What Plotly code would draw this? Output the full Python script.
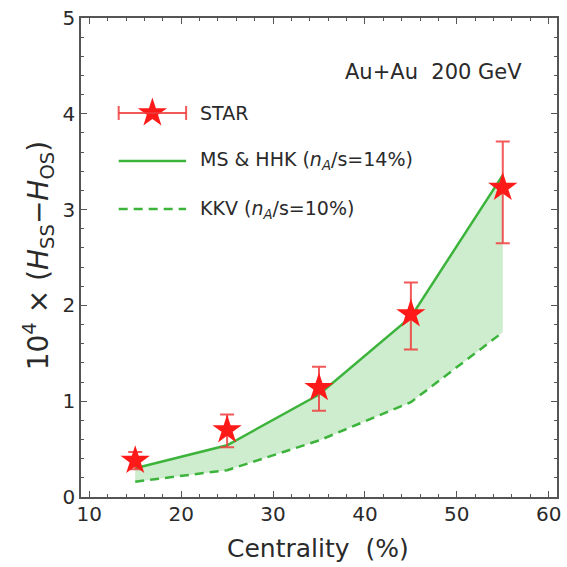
import plotly.graph_objects as go

# ---- data ----
centrality = [15, 25, 35, 45, 55]
star_y = [0.38, 0.70, 1.14, 1.91, 3.23]
star_err_up = [0.09, 0.16, 0.22, 0.33, 0.48]
star_err_dn = [0.09, 0.18, 0.24, 0.37, 0.58]
ms_hhk = [0.30, 0.54, 1.07, 1.88, 3.36]
kkv = [0.16, 0.28, 0.59, 0.99, 1.72]

x_ticks = [10, 20, 30, 40, 50, 60]
y_ticks = [0, 1, 2, 3, 4, 5]

XR = [9.1, 60.9]
YR = [0, 5]

RED = "#ff1a1a"
ERR = "rgba(240,60,60,0.85)"
GREEN = "#3cb43c"
FILL = "rgba(60,180,60,0.25)"
FONT = "DejaVu Sans, Verdana, sans-serif"
TXT = "#2a2a2a"

# plot area in pixels
L, R, T, B = 81, 561, 18, 497
W = H = 567


def px2x(px):
    return XR[0] + (px - L) / (R - L) * (XR[1] - XR[0])


def py2y(py):
    return YR[0] + (B - py) / (B - T) * (YR[1] - YR[0])


def pxp(px):
    return (px - L) / (R - L)


def pyp(py):
    return (B - py) / (B - T)


fig = go.Figure()

# KKV dashed (lower bound of band)
fig.add_trace(go.Scatter(x=centrality, y=kkv, mode="lines",
                         line=dict(color=GREEN, width=2.5, dash="9px,6px"),
                         showlegend=False))
# MS & HHK solid, filled to KKV
fig.add_trace(go.Scatter(x=centrality, y=ms_hhk, mode="lines",
                         line=dict(color=GREEN, width=2.5),
                         fill="tonexty", fillcolor=FILL,
                         showlegend=False))
# STAR data
fig.add_trace(go.Scatter(x=centrality, y=star_y, mode="markers",
                         marker=dict(symbol="star", size=22, color=RED,
                                     line=dict(width=0)),
                         error_y=dict(type="data", symmetric=False,
                                      array=star_err_up, arrayminus=star_err_dn,
                                      color=ERR, thickness=2, width=7),
                         showlegend=False))

# ---- manual legend ----
shapes = []
rows = [113, 161, 209]
x0, x1 = 119, 187
shapes.append(dict(type="line", xref="paper", yref="paper",
                   x0=pxp(x0), x1=pxp(x1), y0=pyp(rows[0]), y1=pyp(rows[0]),
                   line=dict(color=ERR, width=2)))
for cx in (x0, x1):
    shapes.append(dict(type="line", xref="paper", yref="paper",
                       x0=pxp(cx), x1=pxp(cx), y0=pyp(rows[0] - 7), y1=pyp(rows[0] + 7),
                       line=dict(color=ERR, width=2)))
shapes.append(dict(type="line", xref="paper", yref="paper",
                   x0=pxp(x0), x1=pxp(x1), y0=pyp(rows[1]), y1=pyp(rows[1]),
                   line=dict(color=GREEN, width=2.5)))
shapes.append(dict(type="line", xref="paper", yref="paper",
                   x0=pxp(x0), x1=pxp(x1), y0=pyp(rows[2]), y1=pyp(rows[2]),
                   line=dict(color=GREEN, width=2.5, dash="9px,6px")))

fig.add_trace(go.Scatter(x=[px2x(153)], y=[py2y(rows[0])], mode="markers",
                         marker=dict(symbol="star", size=22, color=RED, line=dict(width=0)),
                         showlegend=False, cliponaxis=False, hoverinfo="skip"))

labels = [
    "STAR",
    "MS &amp; HHK (<i>n</i><sub><i>A</i></sub>/s=14%)",
    "KKV (<i>n</i><sub><i>A</i></sub>/s=10%)",
]
annotations = []
for lab, ry in zip(labels, rows):
    annotations.append(dict(text=lab, xref="paper", yref="paper",
                            x=pxp(199), y=pyp(ry), xanchor="left", yanchor="middle",
                            showarrow=False, font=dict(family=FONT, size=19, color=TXT)))

annotations.append(dict(text="Au+Au&nbsp;&nbsp;200 GeV", xref="paper", yref="paper",
                        x=pxp(528), y=pyp(72), xanchor="right", yanchor="middle",
                        showarrow=False, font=dict(family=FONT, size=21, color=TXT)))

# axis titles
annotations.append(dict(text="Centrality&nbsp;&nbsp;(%)", xref="paper", yref="paper",
                        x=pxp(320), y=pyp(548), xanchor="center", yanchor="middle",
                        showarrow=False, font=dict(family=FONT, size=25, color=TXT)))
annotations.append(dict(text="10<sup>4</sup> × (<i>H</i><sub>SS</sub>−<i>H</i><sub>OS</sub>)",
                        xref="paper", yref="paper",
                        x=pxp(38), y=pyp(255), xanchor="center", yanchor="middle",
                        textangle=-90, showarrow=False,
                        font=dict(family=FONT, size=28, color=TXT)))

axis_common = dict(showgrid=False, zeroline=False, showline=True, linecolor="#555",
                   linewidth=1.5, mirror="allticks", ticks="inside", ticklen=6,
                   tickwidth=1.2, tickcolor="#555",
                   tickfont=dict(family=FONT, size=20, color=TXT))

fig.update_layout(
    width=W, height=H,
    margin=dict(l=L, r=W - R, t=T, b=H - B),
    paper_bgcolor="white", plot_bgcolor="white",
    xaxis=dict(range=XR, tickvals=x_ticks, ticktext=[str(v) for v in x_ticks],
               minor=dict(dtick=2, ticks="inside", ticklen=3, tickcolor="#555"),
               ticklabelstandoff=-2,
               **axis_common),
    yaxis=dict(range=YR, tickvals=y_ticks, ticktext=[str(v) for v in y_ticks],
               minor=dict(dtick=0.2, ticks="inside", ticklen=3, tickcolor="#555"),
               **axis_common),
    shapes=shapes,
    annotations=annotations,
    showlegend=False,
)

fig.write_html("out.html")
